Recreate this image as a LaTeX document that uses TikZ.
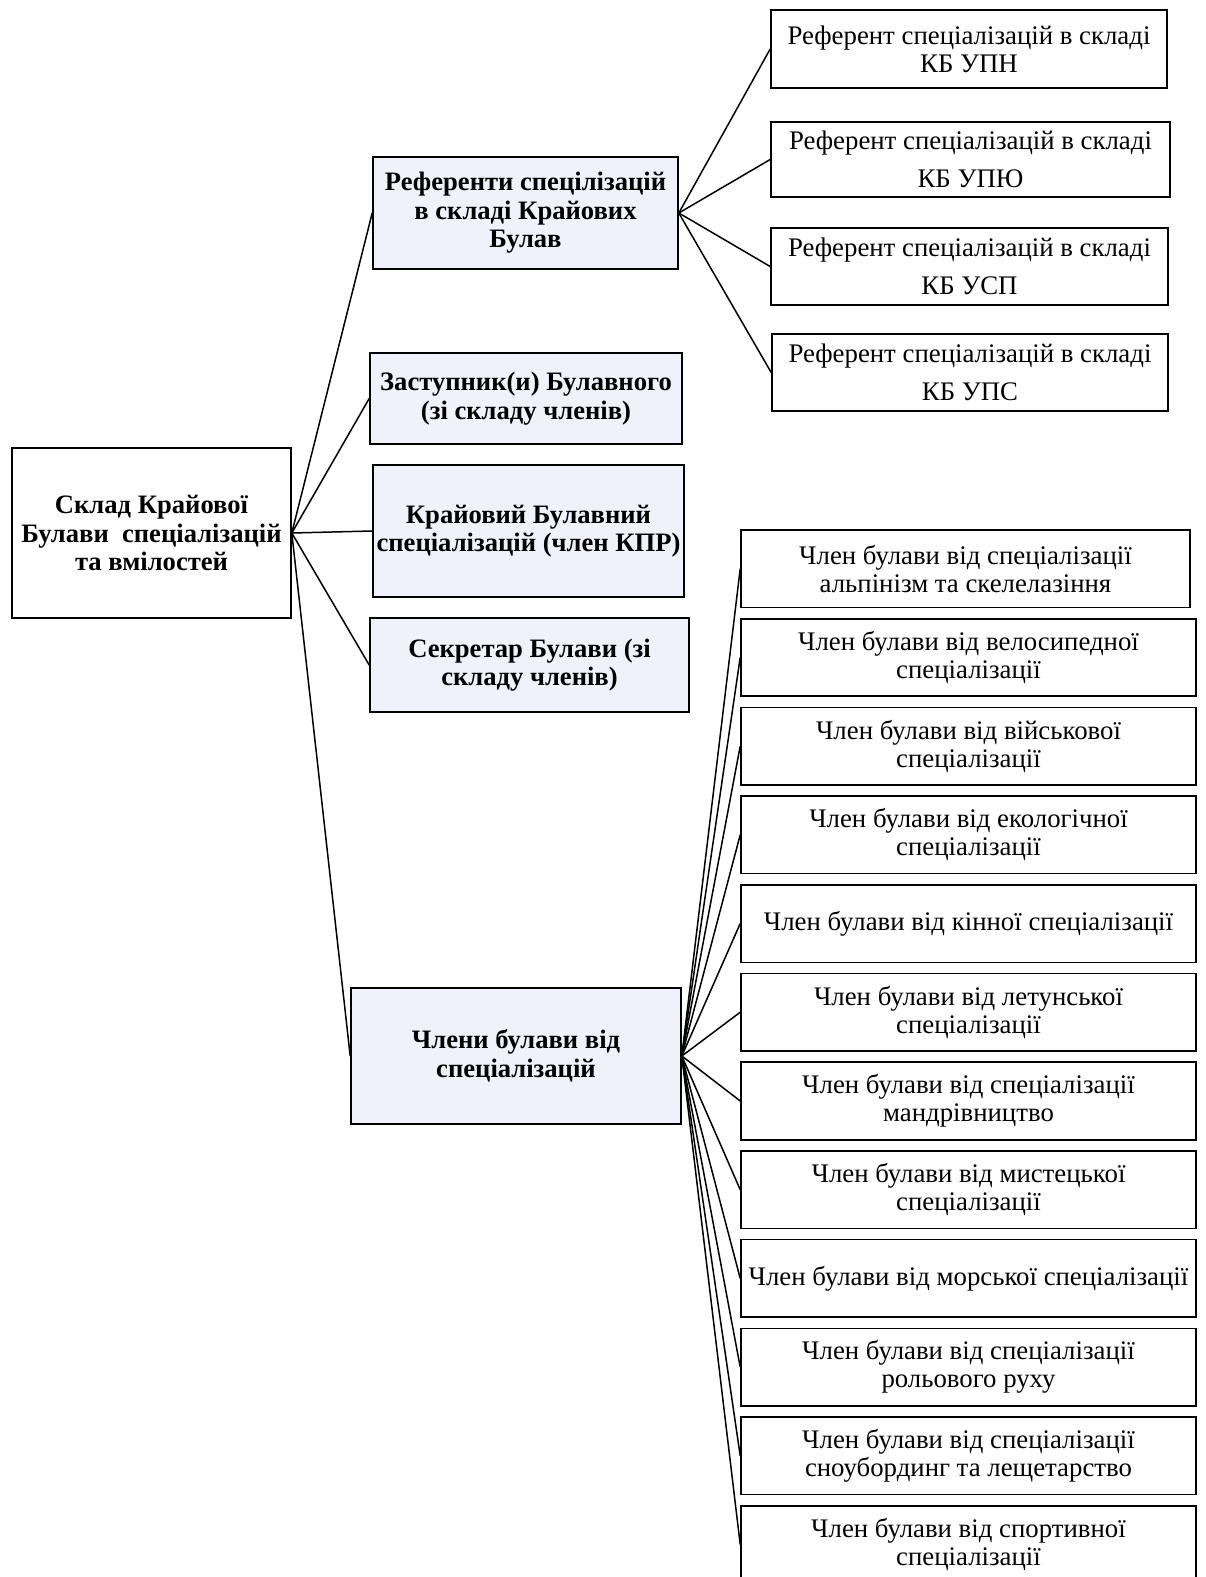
\documentclass[tikz,border=0pt]{standalone}
\usepackage{fontspec}
\setmainfont{Liberation Serif}
\definecolor{boxfill}{RGB}{239,242,250}
\begin{document}
\begin{tikzpicture}[x=1pt,y=-1pt,
  base/.style={draw=black, line width=1.6pt, inner sep=0pt, align=center,
    font=\fontsize{26.8}{28}\selectfont},
  lvl/.style={base, fill=boxfill, font=\bfseries\fontsize{26.6}{28.5}\selectfont},
  leaf/.style={base, fill=white},
  leafwide/.style={leaf, font=\fontsize{26.8}{38}\selectfont},
  conn/.style={line width=1.5pt}]
\useasboundingbox (0,0) rectangle (1205,1577);
\fill[white] (0,0) rectangle (1205,1577);
% root
\node[lvl, fill=white, minimum width=279pt, minimum height=170pt] (root) at (151.5,533)
  {Склад Крайової\\Булави~ спеціалізацій\\та вмілостей};
% second level
\node[lvl, minimum width=305pt, minimum height=112pt] (refs) at (525.5,213)
  {Референти спецілізацій\\в складі Крайових\\Булав};
\node[lvl, minimum width=312pt, minimum height=91pt] (zast) at (526,398.5)
  {Заступник(и) Булавного\\(зі складу членів)};
\node[lvl, minimum width=311pt, minimum height=132pt] (kray) at (528.5,531)
  {Крайовий Булавний\\спеціалізацій (член КПР)};
\node[lvl, minimum width=319pt, minimum height=94pt] (sekr) at (529.5,665)
  {Секретар Булави (зі\\складу членів)};
\node[lvl, minimum width=330pt, minimum height=136pt] (chl) at (516,1056)
  {Члени булави від\\спеціалізацій};
% referents
\node[leaf, minimum width=396pt, minimum height=78pt] (r1) at (969,49)
  {Референт спеціалізацій в складі\\КБ УПН};
\node[leafwide, minimum width=399pt, minimum height=75pt] (r2) at (970.5,159.5)
  {Референт спеціалізацій в складі\\КБ УПЮ};
\node[leafwide, minimum width=397pt, minimum height=77pt] (r3) at (969.5,266.5)
  {Референт спеціалізацій в складі\\КБ УСП};
\node[leafwide, minimum width=396pt, minimum height=77pt] (r4) at (970,372.5)
  {Референт спеціалізацій в складі\\КБ УПС};
% members
\node[leaf, minimum width=449pt, minimum height=77.5pt] (m1) at (965.5,568.75)
  {Член булави від спеціалізації\\альпінізм та скелелазіння};
\node[leaf, minimum width=455pt, minimum height=77.5pt] (m2) at (968.5,657.45)
  {Член булави від велосипедної\\спеціалізації};
\node[leaf, minimum width=455pt, minimum height=77.5pt] (m3) at (968.5,746.15)
  {Член булави від військової\\спеціалізації};
\node[leaf, minimum width=455pt, minimum height=77.5pt] (m4) at (968.5,834.85)
  {Член булави від екологічної\\спеціалізації};
\node[leaf, minimum width=455pt, minimum height=77.5pt] (m5) at (968.5,923.55)
  {Член булави від кінної спеціалізації};
\node[leaf, minimum width=455pt, minimum height=77.5pt] (m6) at (968.5,1012.25)
  {Член булави від летунської\\спеціалізації};
\node[leaf, minimum width=455pt, minimum height=77.5pt] (m7) at (968.5,1100.95)
  {Член булави від спеціалізації\\мандрівництво};
\node[leaf, minimum width=455pt, minimum height=77.5pt] (m8) at (968.5,1189.65)
  {Член булави від мистецької\\спеціалізації};
\node[leaf, minimum width=455pt, minimum height=77.5pt] (m9) at (968.5,1278.35)
  {Член булави від морської спеціалізації};
\node[leaf, minimum width=455pt, minimum height=77.5pt] (m10) at (968.5,1367.05)
  {Член булави від спеціалізації\\рольового руху};
\node[leaf, minimum width=455pt, minimum height=77.5pt] (m11) at (968.5,1455.75)
  {Член булави від спеціалізації\\сноубординг та лещетарство};
\node[leaf, minimum width=455pt, minimum height=77.5pt] (m12) at (968.5,1544.45)
  {Член булави від спортивної\\спеціалізації};
% connectors
\foreach \t in {refs,zast,kray,sekr,chl} \draw[conn] (root.east) -- (\t.west);
\foreach \t in {r1,r2,r3,r4} \draw[conn] (refs.east) -- (\t.west);
\foreach \t in {m1,m2,m3,m4,m5,m6,m7,m8,m9,m10,m11,m12} \draw[conn] (chl.east) -- (\t.west);
\end{tikzpicture}
\end{document}
